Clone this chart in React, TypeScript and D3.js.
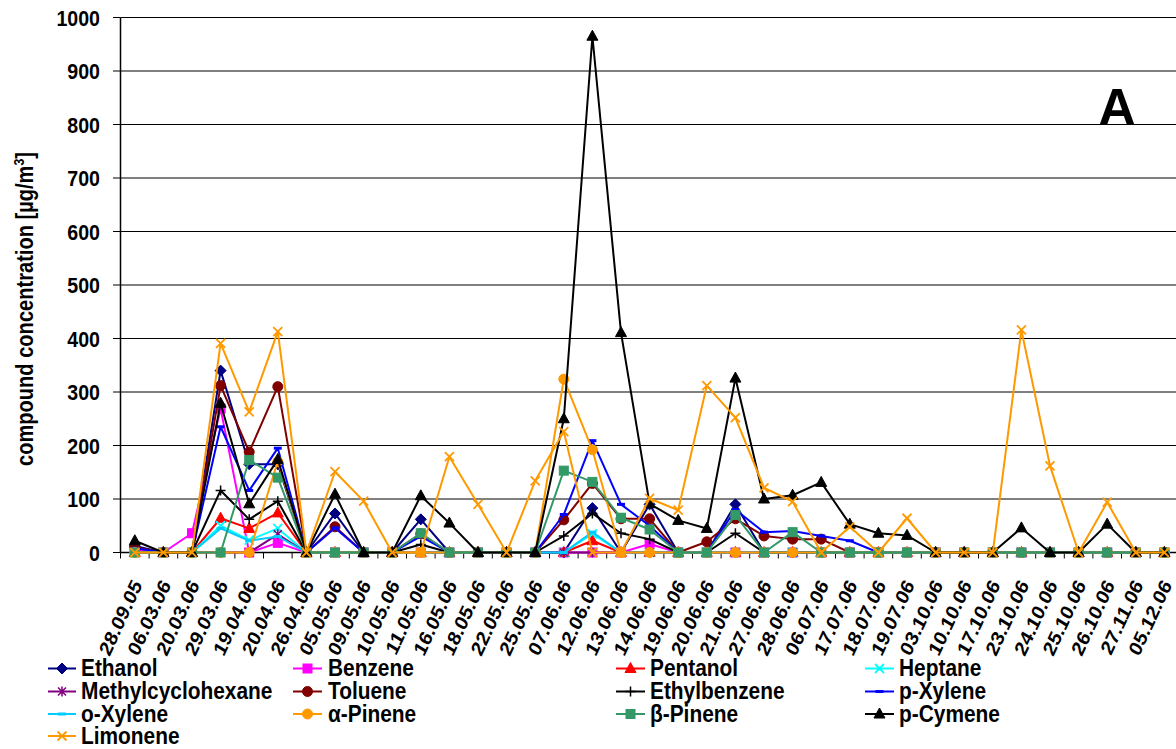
import React from "react";
import * as d3 from "d3";

// Sampling dates (category axis)
const dates = [
  "28.09.05", "06.03.06", "20.03.06", "29.03.06", "19.04.06", "20.04.06", "26.04.06",
  "05.05.06", "09.05.06", "10.05.06", "11.05.06", "16.05.06", "18.05.06", "22.05.06",
  "25.05.06", "07.06.06", "12.06.06", "13.06.06", "14.06.06", "19.06.06", "20.06.06",
  "21.06.06", "27.06.06", "28.06.06", "06.07.06", "17.07.06", "18.07.06", "19.07.06",
  "03.10.06", "10.10.06", "17.10.06", "23.10.06", "24.10.06", "25.10.06", "26.10.06",
  "27.11.06", "05.12.06",
];

// Compound concentrations in µg/m³, one value per date
const ethanol = [12, 0, 0, 340, 165, 165, 0, 73, 0, 0, 62, 0, 0, 0, 0, 0, 83, 0, 90, 0, 0, 90, 0, 0, 0, 0, 0, 0, 0, 0, 0, 0, 0, 0, 0, 0, 0];
const benzene = [5, 0, 36, 269, 0, 18, 0, 0, 0, 0, 0, 0, 0, 0, 0, 0, 0, 0, 16, 0, 0, 0, 0, 0, 0, 0, 0, 0, 0, 0, 0, 0, 0, 0, 0, 0, 0];
const pentanol = [0, 0, 0, 64, 45, 74, 0, 0, 0, 0, 0, 0, 0, 0, 0, 0, 22, 0, 0, 0, 0, 0, 0, 0, 0, 0, 0, 0, 0, 0, 0, 0, 0, 0, 0, 0, 0];
const heptane = [0, 0, 0, 50, 23, 45, 0, 0, 0, 0, 0, 0, 0, 0, 0, 0, 35, 0, 0, 0, 0, 0, 0, 0, 0, 0, 0, 0, 0, 0, 0, 0, 0, 0, 0, 0, 0];
const methylcyclohexane = [0, 0, 0, 0, 0, 34, 0, 0, 0, 0, 0, 0, 0, 0, 0, 0, 0, 0, 0, 0, 0, 0, 0, 0, 0, 0, 0, 0, 0, 0, 0, 0, 0, 0, 0, 0, 0];
const toluene = [10, 0, 0, 312, 188, 310, 0, 48, 0, 0, 35, 0, 0, 0, 0, 61, 129, 63, 63, 0, 20, 63, 31, 25, 25, 0, 0, 0, 0, 0, 0, 0, 0, 0, 0, 0, 0];
const ethylbenzene = [0, 0, 0, 116, 62, 96, 0, 0, 0, 0, 15, 0, 0, 0, 0, 31, 73, 36, 25, 0, 0, 36, 0, 0, 0, 0, 0, 0, 0, 0, 0, 0, 0, 0, 0, 0, 0];
const pXylene = [8, 0, 0, 235, 116, 195, 0, 46, 0, 0, 30, 0, 0, 0, 0, 71, 209, 90, 50, 0, 0, 80, 38, 40, 31, 22, 0, 0, 0, 0, 0, 0, 0, 0, 0, 0, 0];
const oXylene = [0, 0, 0, 45, 22, 30, 0, 0, 0, 0, 0, 0, 0, 0, 0, 0, 38, 0, 0, 0, 0, 0, 0, 0, 0, 0, 0, 0, 0, 0, 0, 0, 0, 0, 0, 0, 0];
const alphaPinene = [0, 0, 0, 0, 0, 170, 0, 0, 0, 0, 0, 0, 0, 0, 0, 324, 192, 0, 0, 0, 0, 0, 0, 0, 0, 0, 0, 0, 0, 0, 0, 0, 0, 0, 0, 0, 0];
const betaPinene = [0, 0, 0, 0, 173, 140, 0, 0, 0, 0, 36, 0, 0, 0, 0, 153, 132, 65, 43, 0, 0, 70, 0, 38, 0, 0, 0, 0, 0, 0, 0, 0, 0, 0, 0, 0, 0];
const pCymene = [22, 0, 0, 279, 91, 174, 0, 109, 0, 0, 106, 55, 0, 0, 0, 250, 965, 411, 91, 60, 45, 326, 100, 107, 131, 53, 36, 32, 0, 0, 0, 46, 0, 0, 53, 0, 0];
const limonene = [0, 0, 0, 391, 263, 413, 0, 151, 96, 0, 0, 179, 90, 0, 134, 226, 0, 0, 101, 79, 312, 252, 121, 95, 0, 48, 0, 64, 0, 0, 0, 416, 162, 0, 94, 0, 0];

const yTicks = [0, 100, 200, 300, 400, 500, 600, 700, 800, 900, 1000];

type MarkerKind = "diamond" | "square" | "triangle" | "x" | "star" | "circle" | "plus" | "dash";

interface Series {
  name: string;
  values: number[];
  color: string;
  marker: MarkerKind;
}

const series: Series[] = [
  { name: "Ethanol", values: ethanol, color: "#000080", marker: "diamond" },
  { name: "Benzene", values: benzene, color: "#FF00FF", marker: "square" },
  { name: "Pentanol", values: pentanol, color: "#FF0000", marker: "triangle" },
  { name: "Heptane", values: heptane, color: "#00FFFF", marker: "x" },
  { name: "Methylcyclohexane", values: methylcyclohexane, color: "#800080", marker: "star" },
  { name: "Toluene", values: toluene, color: "#800000", marker: "circle" },
  { name: "Ethylbenzene", values: ethylbenzene, color: "#000000", marker: "plus" },
  { name: "p-Xylene", values: pXylene, color: "#0000FF", marker: "dash" },
  { name: "o-Xylene", values: oXylene, color: "#00CCFF", marker: "dash" },
  { name: "α-Pinene", values: alphaPinene, color: "#FF9900", marker: "circle" },
  { name: "β-Pinene", values: betaPinene, color: "#339966", marker: "square" },
  { name: "p-Cymene", values: pCymene, color: "#000000", marker: "triangle" },
  { name: "Limonene", values: limonene, color: "#FF9900", marker: "x" },
];

const FONT = "'Liberation Sans', Arial, Helvetica, sans-serif";

function Marker({ kind, color, x, y }: { kind: MarkerKind; color: string; x: number; y: number }) {
  switch (kind) {
    case "diamond":
      return <path d={`M${x},${y - 5.5}L${x + 5.5},${y}L${x},${y + 5.5}L${x - 5.5},${y}Z`} fill={color} stroke={color} strokeWidth={1} />;
    case "square":
      return <rect x={x - 4.5} y={y - 4.5} width={9} height={9} fill={color} stroke={color} strokeWidth={1} />;
    case "triangle":
      return <path d={`M${x},${y - 6}L${x + 5.5},${y + 4}L${x - 5.5},${y + 4}Z`} fill={color} stroke={color} strokeWidth={1} />;
    case "x":
      return (
        <path d={`M${x - 4.5},${y - 4.5}L${x + 4.5},${y + 4.5}M${x + 4.5},${y - 4.5}L${x - 4.5},${y + 4.5}`} stroke={color} strokeWidth={1.8} fill="none" />
      );
    case "star":
      return (
        <path
          d={`M${x - 4},${y - 4}L${x + 4},${y + 4}M${x + 4},${y - 4}L${x - 4},${y + 4}M${x},${y - 5}L${x},${y + 5}`}
          stroke={color}
          strokeWidth={1.5}
          fill="none"
        />
      );
    case "circle":
      return <circle cx={x} cy={y} r={5} fill={color} stroke={color} strokeWidth={1} />;
    case "plus":
      return <path d={`M${x - 5},${y}L${x + 5},${y}M${x},${y - 5}L${x},${y + 5}`} stroke={color} strokeWidth={1.5} fill="none" />;
    case "dash":
      return <rect x={x - 4} y={y - 1.5} width={8} height={3} fill={color} />;
  }
}

// Bold text whose glyphs are compressed horizontally on the page
function CondensedText({
  x, y, rotate = 0, size, squeeze = 0.87, anchor = "start", children,
}: {
  x: number; y: number; rotate?: number; size: number; squeeze?: number; anchor?: string; children: React.ReactNode;
}) {
  return (
    <text
      transform={`translate(${x},${y}) scale(${squeeze},1) rotate(${rotate})`}
      fontFamily={FONT}
      fontWeight="bold"
      fontSize={size}
      textAnchor={anchor}
      fill="#000"
    >
      {children}
    </text>
  );
}

export default function App() {
  const W = 1176;
  const H = 749;
  const left = 120.5;
  const step = 28.6;
  const x = d3
    .scaleBand<string>()
    .domain(dates)
    .range([left, left + step * dates.length])
    .paddingInner(0)
    .paddingOuter(0);
  const cx = (d: string) => (x(d) as number) + x.bandwidth() / 2;
  const y = d3.scaleLinear().domain([0, 1000]).range([552.5, 17.5]);

  const line = d3
    .line<number>()
    .x((_, i) => cx(dates[i]))
    .y((v) => y(v));

  const legendCols = [
    { x0: 48, x1: 76, tx: 81 },
    { x0: 293, x1: 322, tx: 328 },
    { x0: 616, x1: 645, tx: 650 },
    { x0: 865, x1: 894, tx: 899 },
  ];
  const legendRows = [668.5, 691.5, 714, 736];

  const tickBounds = d3.range(dates.length + 1).map((i) => left + i * step);

  return (
    <svg width={W} height={H} style={{ position: "absolute", left: 0, top: 0, background: "#fff" }}>
      <rect width={W} height={H} fill="#fff" />

      {/* horizontal gridlines */}
      {yTicks.filter((t) => t > 0).map((t) => (
        <line key={t} x1={left} x2={W} y1={y(t)} y2={y(t)} stroke="#000" strokeWidth={1} />
      ))}

      {/* y axis with ticks and labels */}
      <line x1={left} x2={left} y1={y(1000)} y2={y(0)} stroke="#000" strokeWidth={1.5} />
      {yTicks.map((t) => (
        <g key={t}>
          <line x1={113} x2={left} y1={y(t)} y2={y(t)} stroke="#000" strokeWidth={1} />
          <CondensedText x={100} y={y(t) + 8.2} size={22.5} anchor="end">
            {t}
          </CondensedText>
        </g>
      ))}

      {/* x axis with ticks and slanted date labels */}
      <line x1={left} x2={W} y1={y(0)} y2={y(0)} stroke="#000" strokeWidth={1.5} />
      {tickBounds.map((b, i) => (
        <line key={i} x1={b} x2={b} y1={y(0)} y2={y(0) + 6} stroke="#000" strokeWidth={1} />
      ))}
      {dates.map((d) => (
        <CondensedText key={d} x={cx(d) + 8} y={585} rotate={-62} size={21} anchor="end">
          {d}
        </CondensedText>
      ))}

      {/* y axis title */}
      <text
        transform={`translate(33,309) rotate(-90) scale(0.82,1)`}
        fontFamily={FONT}
        fontWeight="bold"
        fontSize={24.5}
        textAnchor="middle"
        fill="#000"
      >
        compound concentration [µg/m<tspan fontSize={15} dy={-9}>3</tspan>
        <tspan dy={9}>]</tspan>
      </text>

      {/* data series */}
      {series.map((s) => (
        <g key={s.name}>
          <path d={line(s.values) ?? ""} fill="none" stroke={s.color} strokeWidth={2} strokeLinejoin="round" />
          {s.values.map((v, i) => (
            <Marker key={i} kind={s.marker} color={s.color} x={cx(dates[i])} y={y(v)} />
          ))}
        </g>
      ))}

      {/* panel letter */}
      <text x={1117} y={125} fontFamily={FONT} fontWeight="bold" fontSize={52} textAnchor="middle" fill="#000">
        A
      </text>

      {/* legend */}
      {series.map((s, i) => {
        const col = legendCols[i % 4];
        const ry = legendRows[Math.floor(i / 4)];
        return (
          <g key={s.name}>
            <line x1={col.x0} x2={col.x1} y1={ry} y2={ry} stroke={s.color} strokeWidth={2} />
            <Marker kind={s.marker} color={s.color} x={(col.x0 + col.x1) / 2} y={ry} />
            <CondensedText x={col.tx} y={ry + 7.8} size={24}>
              {s.name}
            </CondensedText>
          </g>
        );
      })}
    </svg>
  );
}
